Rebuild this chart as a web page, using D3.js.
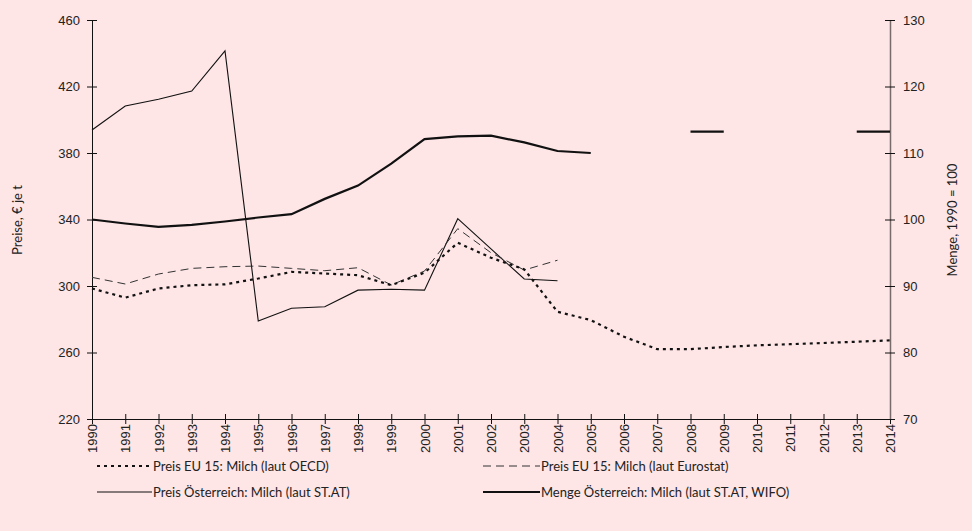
<!DOCTYPE html>
<html><head><meta charset="utf-8">
<script src="https://cdn.jsdelivr.net/npm/d3@7"></script>
<style>
html,body{margin:0;padding:0;background:#fee5e6;}
svg{display:block;font-family:Lato,"DejaVu Sans",sans-serif;}
</style></head>
<body><svg id="c" width="972" height="531"></svg>
<script>
const years = d3.range(1990, 2015);
const leftTicks = [220, 260, 300, 340, 380, 420, 460];
const rightTicks = [70, 80, 90, 100, 110, 120, 130];
const priceOECD = [298.5, 293, 298.5, 300.5, 301, 304.5, 308.5, 307.5, 306.5, 300.5, 308, 326, 317, 310, 284.5, 279.5, 269.5, 262, 262, 263.3, 264.3, 265, 265.7, 266.5, 267.3];
const priceEurostat = [305.2, 301.2, 307.2, 310.6, 311.6, 312, 310.6, 309.2, 311, 300.6, 309, 334.5, 320, 309.6, 315.5];
const priceAT = [393.8, 408.3, 412.3, 417.3, 441.4, 279, 286.6, 287.5, 297.5, 298, 297.5, 340.5, 322.3, 304.2, 303.2];
const mengeAT = [100, 99.4, 98.9, 99.2, 99.7, 100.3, 100.8, 103.1, 105.1, 108.4, 112.1, 112.5, 112.6, 111.6, 110.3, 110.0, null, null, 113.2, 113.2, null, null, null, 113.2, 113.2];
const seriesNames = ["Preis EU 15: Milch (laut OECD)", "Preis EU 15: Milch (laut Eurostat)", "Preis Österreich: Milch (laut ST.AT)", "Menge Österreich: Milch (laut ST.AT, WIFO)"];

const svg = d3.select("#c");
const x = d3.scaleLinear().domain([1990, 2014]).range([92, 890]);
const yL = d3.scaleLinear().domain([220, 460]).range([419, 20]);
const yR = d3.scaleLinear().domain([70, 130]).range([419, 20]);

const styles = [
  {w: 2.2, dash: "3,4", color: "#111"},
  {w: 1, dash: "8,5", color: "#333"},
  {w: 1.1, dash: null, color: "#111"},
  {w: 2.2, dash: null, color: "#111"}
];

// axes
const gx = svg.append("g").attr("transform", "translate(0,419)")
  .call(d3.axisBottom(x).tickValues(years).tickFormat(d3.format("d")).tickSizeOuter(0).tickSizeInner(5));
gx.select(".domain").attr("stroke", "#111");
gx.selectAll(".tick line").attr("y1", -5).attr("y2", 5).attr("stroke", "#111");
gx.selectAll(".tick text").attr("transform", "rotate(-90)").attr("x", -5).attr("y", 0).attr("dy", "0.35em")
  .attr("text-anchor", "end").attr("font-size", 13).attr("fill", "#222");

const gl = svg.append("g").attr("transform", "translate(92,0)")
  .call(d3.axisLeft(yL).tickValues(leftTicks).tickSizeOuter(0).tickSizeInner(5));
gl.select(".domain").attr("stroke", "#111");
gl.selectAll(".tick line").attr("x1", -5).attr("x2", 5).attr("stroke", "#111");
gl.selectAll(".tick text").attr("x", -12).attr("font-size", 13).attr("fill", "#222");

const gr = svg.append("g").attr("transform", "translate(890,0)")
  .call(d3.axisRight(yR).tickValues(rightTicks).tickSizeOuter(0).tickSizeInner(5));
gr.select(".domain").attr("stroke", "#7a6b6b").attr("stroke-width", 1.5);
gr.selectAll(".tick line").attr("x1", -5).attr("x2", 5).attr("stroke", "#111");
gr.selectAll(".tick text").attr("x", 13).attr("font-size", 13).attr("fill", "#222");
svg.selectAll(".domain").attr("fill", "none");
svg.selectAll(".tick").attr("font-family", null);

// axis titles
svg.append("text").attr("transform", "translate(22,220) rotate(-90)").attr("text-anchor", "middle")
  .attr("font-size", 13).attr("fill", "#222").text("Preise, € je t");
svg.append("text").attr("transform", "translate(957,220) rotate(-90)").attr("text-anchor", "middle")
  .attr("font-size", 13).attr("fill", "#222").text("Menge, 1990 = 100");

// lines
function draw(vals, scale, st) {
  const data = vals.map((v, i) => ({yr: years[i], v}));
  const line = d3.line().defined(d => d.v != null).x(d => x(d.yr)).y(d => scale(d.v));
  const p = svg.append("path").datum(data).attr("d", line).attr("fill", "none")
    .attr("stroke", st.color).attr("stroke-width", st.w).attr("stroke-linejoin", "miter");
  if (st.dash) p.attr("stroke-dasharray", st.dash);
}
draw(priceAT, yL, styles[2]);
draw(priceEurostat, yL, styles[1]);
draw(priceOECD, yL, styles[0]);
draw(mengeAT, yR, styles[3]);

// legend
const leg = [
  {x0: 97, x1: 152, y: 466},
  {x0: 483, x1: 540, y: 466},
  {x0: 97, x1: 152, y: 492},
  {x0: 483, x1: 540, y: 492}
];
leg.forEach((l, i) => {
  const st = styles[i];
  const ln = svg.append("line").attr("x1", l.x0).attr("x2", l.x1).attr("y1", l.y).attr("y2", l.y)
    .attr("stroke", st.color).attr("stroke-width", st.w);
  if (st.dash) ln.attr("stroke-dasharray", st.dash);
  svg.append("text").attr("x", l.x1 + 1).attr("y", l.y).attr("dy", "0.35em").attr("font-size", 13)
    .attr("fill", "#222").text(seriesNames[i]);
});
</script></body></html>
